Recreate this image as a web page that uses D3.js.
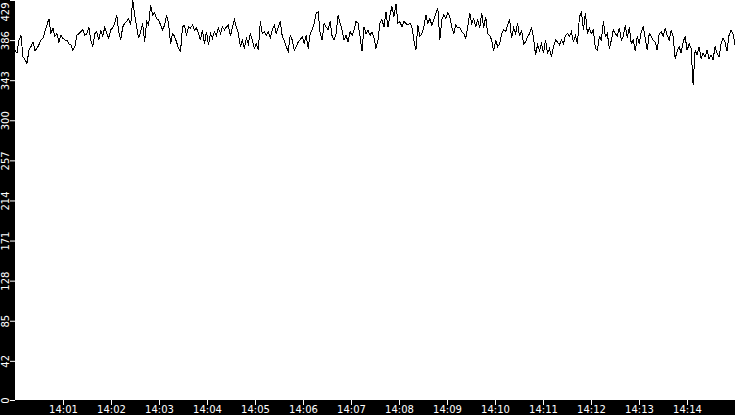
<!DOCTYPE html>
<html><head><meta charset="utf-8">
<script src="https://cdn.jsdelivr.net/npm/d3@7"></script>
<style>html,body{margin:0;padding:0;background:#000}svg{display:block}</style>
</head><body>
<svg id="chart" width="735" height="415"></svg>
<script>
const startTime = "2024-01-01T14:00:00";
const endTime = "2024-01-01T14:15:00";
const values = [
375,372,386,391,368,365,361,375,379,384,375,377,381,386,388,395,402,409,393,399,390,393,384,391,388,386,386,382,381,375,379,391,393,395,397,391,393,400,386,379,
393,395,386,397,390,400,393,388,397,399,404,413,395,386,400,404,406,409,402,429,413,400,388,395,404,384,406,402,424,413,415,409,408,402,397,402,413,404,382,393,390,
384,377,374,400,402,391,400,399,402,397,399,393,386,397,382,395,381,393,388,395,391,399,393,400,397,400,402,390,400,408,400,393,379,386,377,388,382,393,386,377,
382,375,406,393,395,391,395,388,397,402,393,400,406,390,386,379,374,391,386,375,379,384,386,390,382,391,377,393,397,404,415,416,393,386,404,400,397,406,390,386,
393,413,404,397,386,391,384,395,391,397,406,404,390,374,400,393,397,391,395,388,377,386,404,408,400,416,400,413,422,411,425,404,406,400,406,404,402,404,400,386,
375,402,390,393,400,413,404,409,402,408,415,420,386,408,413,409,415,411,400,393,402,399,400,395,393,388,400,415,404,409,400,408,399,415,399,411,393,391,386,374,
386,379,382,393,397,395,402,408,388,399,393,404,390,397,382,384,390,393,399,388,370,381,375,382,372,386,372,377,368,379,386,384,381,386,382,391,393,390,395,384,
391,382,411,416,397,415,393,399,393,397,377,375,390,386,406,390,393,377,386,397,393,390,399,386,390,402,388,400,382,386,374,390,382,395,400,388,375,393,390,386,
384,375,393,395,390,399,391,386,397,390,366,374,379,372,384,390,375,382,377,338,375,370,379,366,372,368,375,366,370,365,379,372,368,382,388,384,374,391,397,393,381
];
const yTickLabels = [0,42,85,128,171,214,257,300,343,386,429];
const xTickLabels = ["14:01","14:02","14:03","14:04","14:05","14:06","14:07","14:08","14:09","14:10","14:11","14:12","14:13","14:14"];

const W = 735, H = 415;
const plot = {left: 15, top: 0, right: 735, bottom: 400};
const svg = d3.select("#chart");
const t0 = new Date(startTime), t1 = new Date(endTime);
const data = values.map((v, i) => ({t: new Date(+t0 + (t1 - t0) * i / (values.length - 1)), v}));

svg.append("rect").attr("width", W).attr("height", H).attr("fill", "#000");
svg.append("rect").attr("x", plot.left).attr("y", plot.top)
  .attr("width", plot.right - plot.left).attr("height", plot.bottom - plot.top).attr("fill", "#fff");

const x = d3.scaleTime().domain([t0, t1]).range([plot.left, plot.right]);
const y = d3.scaleLinear().domain([0, 429]).range([plot.bottom, plot.top]);

const parseHM = d3.timeParse("%Y-%m-%d %H:%M");
const xTicks = xTickLabels.map(s => parseHM("2024-01-01 " + s));

const font = "'DejaVu Sans', sans-serif";

const gx = svg.append("g").attr("transform", `translate(0,${plot.bottom})`)
  .call(d3.axisBottom(x).tickValues(xTicks).tickFormat(d3.timeFormat("%H:%M")).tickSize(5).tickPadding(1));
gx.select(".domain").remove();
gx.selectAll("line").attr("stroke", "#fff");
gx.selectAll("text").attr("fill", "#fff").style("font-family", font).style("font-size", "10px");

const gy = svg.append("g").attr("transform", `translate(${plot.left},0)`)
  .call(d3.axisLeft(y).tickValues(yTickLabels).tickFormat(d3.format("d")).tickSize(5));
gy.select(".domain").remove();
gy.selectAll("line").attr("stroke", "#fff");
gy.selectAll("text")
  .attr("fill", "#fff").style("font-family", font).style("font-size", "10px")
  .attr("x", 0).attr("y", -6).attr("dy", 0)
  .attr("text-anchor", "middle")
  .attr("transform", "rotate(-90)")
  .filter(d => d === 429).attr("text-anchor", "end").attr("x", -2);

const line = d3.line().x(d => x(d.t)).y(d => y(d.v));
svg.append("path").datum(data).attr("d", line)
  .attr("fill", "none").attr("stroke", "#000").attr("stroke-width", 1)
  .style("shape-rendering", "crispEdges");
</script>
</body></html>
